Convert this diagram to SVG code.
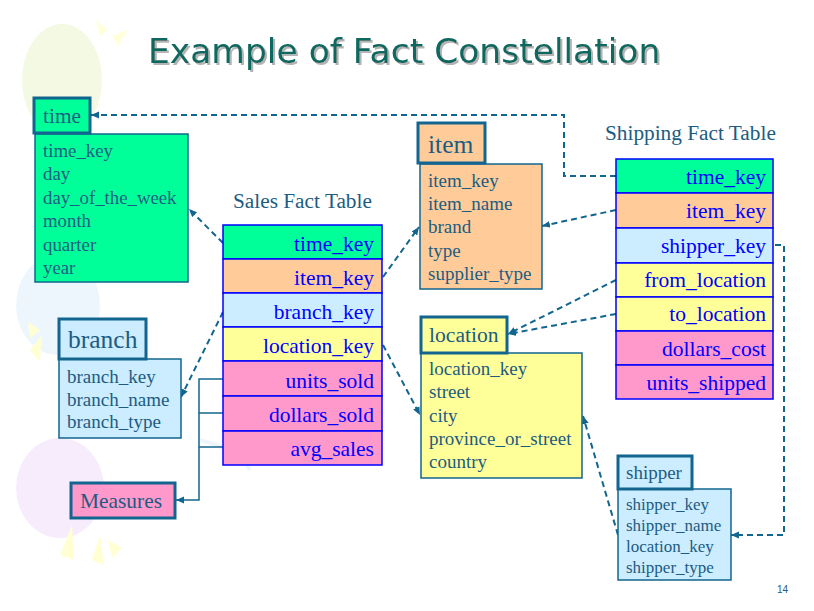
<svg xmlns="http://www.w3.org/2000/svg" width="814" height="611" viewBox="0 0 814 611">
<defs>
<marker id="ah" markerUnits="userSpaceOnUse" markerWidth="9" markerHeight="8" refX="8" refY="4" orient="auto">
<path d="M0,0.5 L8,4 L0,7.5 z" fill="#12658f"/>
</marker>
<filter id="shadow" x="-5%" y="-20%" width="110%" height="150%">
<feOffset in="SourceAlpha" dx="2" dy="2" result="off"/>
<feFlood flood-color="#b4b4b4"/>
<feComposite in2="off" operator="in" result="sh"/>
<feMerge><feMergeNode in="sh"/><feMergeNode in="SourceGraphic"/></feMerge>
</filter>
<style>
.bg{fill:#ffffff}
.ttl{font-family:"DejaVu Sans",Verdana,sans-serif;font-size:34.5px}
.cap{font-family:"Liberation Serif","Times New Roman",serif;font-size:21.3px;fill:#1c5c82}
.hd{stroke:#12658f;stroke-width:3}
.bd{stroke:#12658f;stroke-width:1.5}
.tx{font-family:"Liberation Serif","Times New Roman",serif;fill:#1c5c82}
.fr{stroke:#0000ff;stroke-width:1.5}
.ft{font-family:"Liberation Serif","Times New Roman",serif;font-size:21.5px;fill:#0000ff;text-anchor:end}
.g{fill:#00ff99}.o{fill:#ffcc99}.b{fill:#ccecff}.y{fill:#ffff99}.p{fill:#ff99cc}
.dl{fill:none;stroke:#12658f;stroke-width:2;stroke-dasharray:6 4}
.sl{fill:none;stroke:#12658f;stroke-width:1.5}
</style>
</defs>
<rect class="bg" x="0" y="0" width="814" height="611"/>
<g id="background" opacity="0.45">
<ellipse cx="62" cy="80" rx="40" ry="56" fill="#e6f2bf"/>
<polygon points="96,20 108,30 100,36" fill="#ffffb0"/>
<polygon points="112,36 128,30 118,46" fill="#ffffb0"/>
<ellipse cx="58" cy="305" rx="42" ry="50" fill="#d8edfa"/>
<polygon points="30,350 42,335 40,362" fill="#ffffa0"/>
<polygon points="28,322 40,330 30,338" fill="#ffffa0"/>
<ellipse cx="60" cy="488" rx="44" ry="50" fill="#ecd6f7"/>
<polygon points="60,555 72,525 74,560" fill="#ffffa0"/>
<polygon points="92,560 100,535 104,565" fill="#ffffa0"/>
<polygon points="108,540 122,548 112,558" fill="#ffffa0"/>
<path d="M200,440 Q240,450 250,470" fill="none" stroke="#d8ecf8" stroke-width="4"/>
</g>
<g id="title">
<text class="ttl" x="148" y="63" fill="#0b675e" filter="url(#shadow)">Example of Fact Constellation</text>
</g>
<g id="connectors">
<path class="dl" d="M223,243 L189,209" marker-end="url(#ah)"/>
<path class="dl" d="M616,176 L564,176 L564,115 L91,115" marker-end="url(#ah)"/>
<path class="dl" d="M383,277 L419,227" marker-end="url(#ah)"/>
<path class="dl" d="M616,210 L542,226" marker-end="url(#ah)"/>
<path class="dl" d="M223,312 L181,397" marker-end="url(#ah)"/>
<path class="dl" d="M383,345 L420,415" marker-end="url(#ah)"/>
<path class="dl" d="M616,280 L508,334" marker-end="url(#ah)"/>
<path class="dl" d="M616,314 L508,334" marker-end="url(#ah)"/>
<path class="dl" d="M618,535 L583,416" marker-end="url(#ah)"/>
<path class="dl" d="M775,245 L784,245 L784,535 L731,535" marker-end="url(#ah)"/>
<path class="sl" d="M223,379 L199,379 L199,500 L176,500" marker-end="url(#ah)"/>
<path class="sl" d="M223,413 L199,413"/>
<path class="sl" d="M223,447 L199,447" stroke="#8aa6b8"/>
</g>
<g id="time">
<rect class="g bd" x="35" y="134" width="153" height="148"/>
<rect class="g hd" x="34" y="98" width="56" height="35"/>
<text class="tx" x="43" y="123" font-size="21.4">time</text>
<g class="tx" font-size="18.8">
<text x="43" y="157">time_key</text>
<text x="43" y="180">day</text>
<text x="43" y="204">day_of_the_week</text>
<text x="43" y="227">month</text>
<text x="43" y="251">quarter</text>
<text x="43" y="274">year</text>
</g>
</g>
<g id="sales_fact_table">
<text class="cap" x="233" y="208">Sales Fact Table</text>
<rect class="g fr" x="223" y="225" width="159" height="34"/>
<rect class="o fr" x="223" y="259" width="159" height="34"/>
<rect class="b fr" x="223" y="293" width="159" height="34"/>
<rect class="y fr" x="223" y="327" width="159" height="34"/>
<rect class="p fr" x="223" y="361" width="159" height="35"/>
<rect class="p fr" x="223" y="396" width="159" height="35"/>
<rect class="p fr" x="223" y="431" width="159" height="34"/>
<text class="ft" x="374" y="251">time_key</text>
<text class="ft" x="374" y="285">item_key</text>
<text class="ft" x="374" y="319">branch_key</text>
<text class="ft" x="374" y="353">location_key</text>
<text class="ft" x="374" y="388">units_sold</text>
<text class="ft" x="374" y="422">dollars_sold</text>
<text class="ft" x="374" y="456">avg_sales</text>
</g>
<g id="item">
<rect class="o bd" x="420" y="164" width="122" height="125"/>
<rect class="o hd" x="418" y="123" width="67" height="40"/>
<text class="tx" x="428" y="153" font-size="25.5">item</text>
<g class="tx" font-size="19">
<text x="428" y="187">item_key</text>
<text x="428" y="210">item_name</text>
<text x="428" y="233">brand</text>
<text x="428" y="257">type</text>
<text x="428" y="280">supplier_type</text>
</g>
</g>
<g id="location">
<rect class="y bd" x="421" y="353" width="161" height="125"/>
<rect class="y hd" x="421" y="317" width="86" height="36"/>
<text class="tx" x="429" y="342" font-size="21.6">location</text>
<g class="tx" font-size="19">
<text x="429" y="375">location_key</text>
<text x="429" y="398">street</text>
<text x="429" y="422">city</text>
<text x="429" y="445">province_or_street</text>
<text x="429" y="468">country</text>
</g>
</g>
<g id="shipping_fact_table">
<text class="cap" x="605" y="140">Shipping Fact Table</text>
<rect class="g fr" x="616" y="159" width="157" height="34"/>
<rect class="o fr" x="616" y="193" width="157" height="35"/>
<rect class="b fr" x="616" y="228" width="157" height="35" stroke-width="2.5"/>
<rect class="y fr" x="616" y="263" width="157" height="34"/>
<rect class="y fr" x="616" y="297" width="157" height="34"/>
<rect class="p fr" x="616" y="331" width="157" height="34"/>
<rect class="p fr" x="616" y="365" width="157" height="34"/>
<text class="ft" x="766" y="184">time_key</text>
<text class="ft" x="766" y="218">item_key</text>
<text class="ft" x="766" y="253">shipper_key</text>
<text class="ft" x="766" y="287">from_location</text>
<text class="ft" x="766" y="321">to_location</text>
<text class="ft" x="766" y="356">dollars_cost</text>
<text class="ft" x="766" y="390">units_shipped</text>
</g>
<g id="branch">
<rect class="b bd" x="59" y="359" width="122" height="79"/>
<rect class="b hd" x="59" y="319" width="87" height="40"/>
<text class="tx" x="68" y="348" font-size="25.5">branch</text>
<g class="tx" font-size="19">
<text x="67" y="383">branch_key</text>
<text x="67" y="406">branch_name</text>
<text x="67" y="428">branch_type</text>
</g>
</g>
<g id="measures">
<rect class="p hd" x="71" y="483" width="104" height="35"/>
<text class="tx" x="80" y="508" font-size="21.4">Measures</text>
</g>
<g id="shipper">
<rect class="b bd" x="618" y="489" width="113" height="91"/>
<rect class="b hd" x="618" y="456" width="74" height="33"/>
<text class="tx" x="626" y="479" font-size="19">shipper</text>
<g class="tx" font-size="17">
<text x="626" y="510">shipper_key</text>
<text x="626" y="531">shipper_name</text>
<text x="626" y="552">location_key</text>
<text x="626" y="573">shipper_type</text>
</g>
</g>
<text x="777" y="593" font-family="Liberation Sans,Arial,sans-serif" font-size="10" fill="#1c5c82">14</text>
</svg>
